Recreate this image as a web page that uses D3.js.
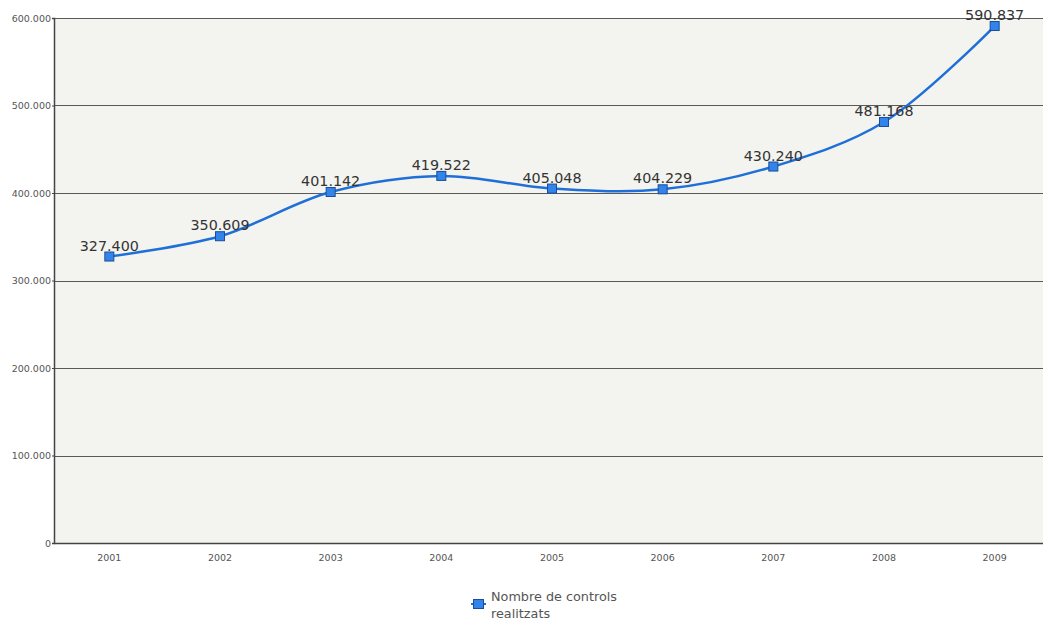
<!DOCTYPE html>
<html><head><meta charset="utf-8">
<script src="https://cdn.jsdelivr.net/npm/d3@7"></script>
<style>body{margin:0;background:#fff;}svg{display:block;}</style>
</head><body>
<svg id="c" width="1043" height="625"></svg>
<script>
const years = ["2001","2002","2003","2004","2005","2006","2007","2008","2009"];
const values = [327400, 350609, 401142, 419522, 405048, 404229, 430240, 481168, 590837];
const yTicks = [0, 100000, 200000, 300000, 400000, 500000, 600000];
const seriesName = ["Nombre de controls", "realitzats"];

const svg = d3.select("#c");
const m = {left: 54, top: 18, right: 1050, bottom: 543};
const x = d3.scaleBand().domain(years).range([m.left, m.right]);
const y = d3.scaleLinear().domain([0, 600000]).range([m.bottom, m.top]);
const fmt = v => v === 0 ? "0" : d3.format(",")(v).replace(/,/g, ".");

svg.append("rect").attr("x", m.left).attr("y", m.top)
  .attr("width", m.right - m.left).attr("height", m.bottom - m.top).attr("fill", "#f3f3ef");

// gridlines
svg.append("g").selectAll("line").data(yTicks.filter(d => d > 0)).join("line")
  .attr("x1", m.left).attr("x2", m.right)
  .attr("y1", d => Math.round(y(d)) + 0.5).attr("y2", d => Math.round(y(d)) + 0.5)
  .attr("stroke", "#5a5a5a").attr("stroke-width", 1.2);

// y axis
const ya = svg.append("g").attr("transform", `translate(${m.left},0)`)
  .call(d3.axisLeft(y).tickValues(yTicks).tickFormat(fmt).tickSize(2).tickPadding(1));
ya.select(".domain").attr("stroke", "#444").attr("stroke-width", 1.5);
ya.selectAll(".tick line").attr("stroke", "#444");
ya.selectAll("text").attr("font-family", "DejaVu Sans, sans-serif").attr("font-size", 9.5).attr("fill", "#555");

// x axis
const xa = svg.append("g").attr("transform", `translate(0,${m.bottom})`)
  .call(d3.axisBottom(x).tickSize(0).tickPadding(11));
xa.select(".domain").attr("stroke", "#444").attr("stroke-width", 1.5);
xa.selectAll("text").attr("font-family", "DejaVu Sans, sans-serif").attr("font-size", 9.5).attr("fill", "#555");

const cx = d => x(d) + x.bandwidth() / 2;
const pts = years.map((yr, i) => [cx(yr), y(values[i])]);

svg.append("path").attr("d", d3.line().curve(d3.curveCatmullRom.alpha(0.5))(pts))
  .attr("fill", "none").attr("stroke", "#1f6fd8").attr("stroke-width", 2.5);

svg.append("g").selectAll("rect").data(pts).join("rect")
  .attr("x", d => d[0] - 4.5).attr("y", d => d[1] - 4.5).attr("width", 9).attr("height", 9)
  .attr("fill", "#3284ea").attr("stroke", "#1a4d9a").attr("stroke-width", 1);

svg.append("g").selectAll("text").data(values).join("text")
  .attr("x", (d, i) => cx(years[i])).attr("y", d => y(d) - 6)
  .attr("text-anchor", "middle").attr("font-family", "DejaVu Sans, sans-serif")
  .attr("font-size", 14.3).attr("fill", "#333").text(fmt);

// legend
const lg = svg.append("g");
lg.append("line").attr("x1", 471).attr("x2", 486).attr("y1", 604).attr("y2", 604)
  .attr("stroke", "#1f6fd8").attr("stroke-width", 2);
lg.append("rect").attr("x", 473.5).attr("y", 599.5).attr("width", 10).attr("height", 9)
  .attr("fill", "#3284ea").attr("stroke", "#1a4d9a");
lg.selectAll("text").data(seriesName).join("text")
  .attr("x", 491).attr("y", (d, i) => 601 + i * 16.5)
  .attr("font-family", "DejaVu Sans, sans-serif").attr("font-size", 12.8).attr("fill", "#555").text(d => d);
</script>
</body></html>
